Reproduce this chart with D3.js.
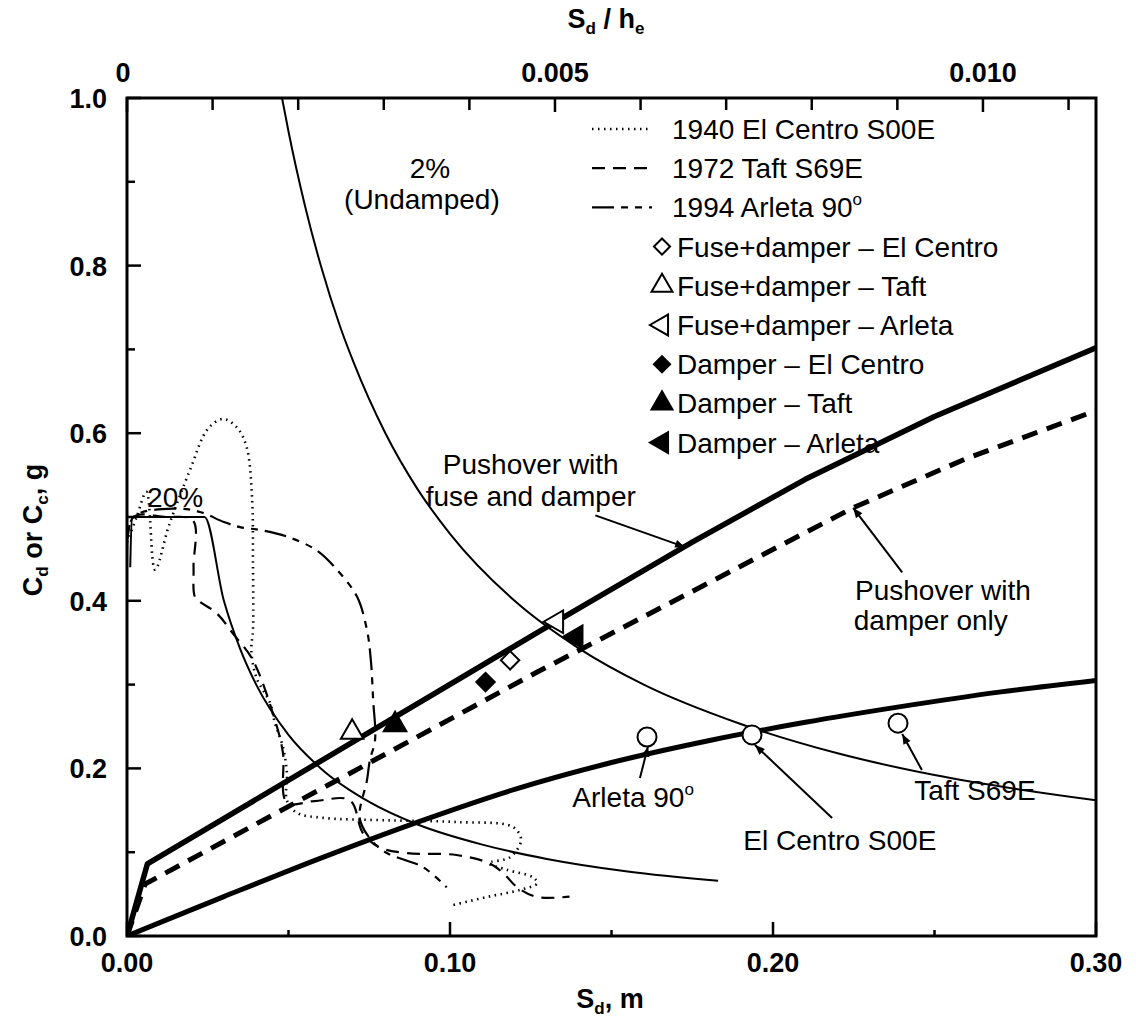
<!DOCTYPE html>
<html><head><meta charset="utf-8">
<script src="https://cdn.jsdelivr.net/npm/d3@7"></script>
<style>
body{margin:0;background:#fff;}
text{font-family:"Liberation Sans",Arial,Helvetica,sans-serif;fill:#000;}
</style></head>
<body><svg id="c" width="1136" height="1025"></svg>
<script>
// ---------- data (Sd in m, C in g) ----------
const xTicks = [0.00, 0.10, 0.20, 0.30];
const xMinorTicks = [0.05, 0.15, 0.25];
const yTicks = [0.0, 0.2, 0.4, 0.6, 0.8, 1.0];
const yMinorTicks = [0.1, 0.3, 0.5, 0.7, 0.9];
const topTicks = [0, 0.005, 0.010];
const topMinorTicks = [0.001,0.002,0.003,0.004,0.006,0.007,0.008,0.009,0.011];
const heightHe = 26.5;

const pushoverFuse = [[0,0],[0.0063,0.086],[0.127,0.362],[0.175,0.470],[0.21,0.545],[0.25,0.620],[0.30,0.702]];
const pushoverDamper = [[0,0],[0.0056,0.062],[0.127,0.315],[0.2248,0.511],[0.26,0.570],[0.30,0.627]];
const capacityBare = [[0,0],[0.03,0.047],[0.06,0.093],[0.09,0.136],[0.12,0.175],[0.15,0.207],[0.18,0.233],[0.21,0.255],[0.24,0.274],[0.27,0.291],[0.30,0.305]];

const demand2pct = [[0.048,1.0],[0.050,0.96],[0.055,0.873],[0.060,0.80],[0.066,0.727],[0.070,0.686],[0.080,0.60],[0.090,0.533],[0.100,0.48],[0.120,0.40],[0.140,0.343],[0.160,0.30],[0.190,0.253],[0.220,0.218],[0.250,0.192],[0.300,0.162]];
const demand20pct = [[0.001,0.44],[0.0015,0.50],[0.024,0.50],[0.030,0.40],[0.035,0.343],[0.040,0.30],[0.050,0.24],[0.060,0.20],[0.075,0.16],[0.090,0.133],[0.110,0.109],[0.130,0.092],[0.155,0.077],[0.183,0.066]];

const elCentro = [[0.0,0.47],[0.003,0.50],[0.006,0.53],[0.0087,0.437],[0.013,0.49],[0.0195,0.556],[0.025,0.605],[0.0297,0.617],[0.034,0.607],[0.037,0.584],[0.0387,0.524],[0.039,0.445],[0.039,0.365],[0.0385,0.341],[0.040,0.309],[0.0443,0.278],[0.0458,0.254],[0.0483,0.2255],[0.0495,0.194],[0.0495,0.162],[0.0526,0.147],[0.0607,0.141],[0.0814,0.138],[0.102,0.136],[0.1195,0.130],[0.122,0.1146],[0.1186,0.094],[0.112,0.087],[0.1176,0.079],[0.1257,0.070],[0.127,0.063],[0.1217,0.055],[0.112,0.047],[0.101,0.037]];
const taft = [[0.0,0.45],[0.002,0.50],[0.012,0.50],[0.0204,0.496],[0.0206,0.44],[0.021,0.405],[0.0225,0.399],[0.0278,0.385],[0.033,0.360],[0.039,0.329],[0.0464,0.250],[0.0483,0.218],[0.0495,0.159],[0.058,0.161],[0.069,0.162],[0.073,0.123],[0.078,0.106],[0.0867,0.099],[0.102,0.0967],[0.112,0.087],[0.1165,0.075],[0.1207,0.0585],[0.127,0.0465],[0.137,0.047]];
const arleta = [[0.0,0.46],[0.002,0.50],[0.015,0.51],[0.0226,0.506],[0.030,0.494],[0.0350,0.488],[0.042,0.484],[0.050,0.476],[0.0588,0.46],[0.065,0.437],[0.0712,0.405],[0.0743,0.365],[0.0755,0.329],[0.0762,0.282],[0.0768,0.234],[0.0752,0.21],[0.0743,0.186],[0.072,0.142],[0.0745,0.120],[0.0800,0.100],[0.0917,0.082],[0.099,0.058]];

const fuseElCentro = [0.1186, 0.329];
const fuseTaft = [0.0697, 0.243];
const fuseArleta = [0.133, 0.375];
const damperElCentro = [0.111, 0.303];
const damperTaft = [0.083, 0.252];
const damperArleta = [0.139, 0.357];
const peakPoints = [[0.161,0.2375],[0.1935,0.240],[0.2387,0.254]];

const legendLines = ["1940 El Centro S00E","1972 Taft S69E","1994 Arleta 90°"];
const legendSymbols = ["Fuse+damper – El Centro","Fuse+damper – Taft","Fuse+damper – Arleta","Damper – El Centro","Damper – Taft","Damper – Arleta"];

// ---------- drawing ----------
const svg = d3.select("#c");
const x = d3.scaleLinear().domain([0,0.30]).range([127,1096]);
const y = d3.scaleLinear().domain([0,1.0]).range([936,98]);
const xTop = d3.scaleLinear().domain([0,0.30/heightHe]).range([127,1096]);

const defs = svg.append("defs");
defs.append("marker").attr("id","arr").attr("viewBox","0 0 10 10").attr("refX",10).attr("refY",5)
  .attr("markerWidth",12).attr("markerHeight",10).attr("markerUnits","userSpaceOnUse").attr("orient","auto")
  .append("path").attr("d","M0,1 L10,5 L0,9 Z").attr("fill","#000");
defs.append("clipPath").attr("id","clip").append("rect").attr("x",127).attr("y",98).attr("width",969).attr("height",838);

const plot = svg.append("g").attr("clip-path","url(#clip)");
const lin = d3.line().x(d=>x(d[0])).y(d=>y(d[1]));
const mono = d3.line().x(d=>x(d[0])).y(d=>y(d[1])).curve(d3.curveMonotoneX);
const smooth = d3.line().x(d=>x(d[0])).y(d=>y(d[1])).curve(d3.curveCatmullRom.alpha(0.5));

function draw(data, gen, w, dash){
  plot.append("path").datum(data).attr("d",gen).attr("fill","none").attr("stroke","#000")
   .attr("stroke-width",w).attr("stroke-dasharray",dash||null).attr("stroke-linejoin","round");
}
const dotDash="1.5,4.5", taftDash="13,8", arletaDash="22,7,7,7,7,7";
draw(demand2pct, mono, 2);
draw(demand20pct, mono, 2);
draw(elCentro, smooth, 2.6, dotDash);
draw(taft, smooth, 2.2, taftDash);
draw(arleta, smooth, 2.2, arletaDash);
draw(capacityBare, smooth, 5);
draw(pushoverFuse, lin, 5.5);
draw(pushoverDamper, lin, 5, "16,10");

// markers
const sym = (type,size)=>d3.symbol().type(type).size(size)();
function marker(p, type, filled, rot, size){
  svg.append("path").attr("d",sym(type,size)).attr("transform",`translate(${x(p[0])},${y(p[1])}) rotate(${rot})`)
   .attr("fill",filled?"#000":"#fff").attr("stroke","#000").attr("stroke-width",2);
}
marker(fuseElCentro, d3.symbolSquare, false, 45, 170);
marker(fuseTaft, d3.symbolTriangle, false, 0, 220);
marker(fuseArleta, d3.symbolTriangle, false, -90, 220);
marker(damperElCentro, d3.symbolSquare, true, 45, 170);
marker(damperTaft, d3.symbolTriangle, true, 0, 220);
marker(damperArleta, d3.symbolTriangle, true, -90, 220);
svg.selectAll("circle.pk").data(peakPoints).join("circle").attr("class","pk")
  .attr("cx",d=>x(d[0])).attr("cy",d=>y(d[1])).attr("r",9.5).attr("fill","#fff").attr("stroke","#000").attr("stroke-width",2);

// frame
svg.append("rect").attr("x",127).attr("y",98).attr("width",969).attr("height",838).attr("fill","none").attr("stroke","#000").attr("stroke-width",3);

// axes ticks (inward)
const ax = svg.append("g");
yTicks.forEach(v=>{ax.append("line").attr("x1",127).attr("x2",141).attr("y1",y(v)).attr("y2",y(v)).attr("stroke","#000").attr("stroke-width",2.5);
  ax.append("text").attr("x",107).attr("y",y(v)+10).attr("text-anchor","end").attr("font-size",27).attr("font-weight","bold").text(d3.format(".1f")(v));});
yMinorTicks.forEach(v=>ax.append("line").attr("x1",127).attr("x2",135).attr("y1",y(v)).attr("y2",y(v)).attr("stroke","#000").attr("stroke-width",2.5));
xTicks.forEach(v=>{ax.append("line").attr("x1",x(v)).attr("x2",x(v)).attr("y1",936).attr("y2",922).attr("stroke","#000").attr("stroke-width",2.5);
  ax.append("text").attr("x",x(v)).attr("y",972).attr("text-anchor","middle").attr("font-size",27).attr("font-weight","bold").text(d3.format(".2f")(v));});
xMinorTicks.forEach(v=>ax.append("line").attr("x1",x(v)).attr("x2",x(v)).attr("y1",936).attr("y2",930).attr("stroke","#000").attr("stroke-width",2.5));
topTicks.forEach(v=>{ax.append("line").attr("x1",xTop(v)).attr("x2",xTop(v)).attr("y1",98).attr("y2",112).attr("stroke","#000").attr("stroke-width",2.5);
  ax.append("text").attr("x",xTop(v)-(v===0?4:0)).attr("y",82).attr("text-anchor","middle").attr("font-size",27).attr("font-weight","bold").text(v===0?"0":d3.format(".3f")(v));});
topMinorTicks.forEach(v=>ax.append("line").attr("x1",xTop(v)).attr("x2",xTop(v)).attr("y1",98).attr("y2",110).attr("stroke","#000").attr("stroke-width",2.5));

// axis titles
let t1 = svg.append("text").attr("x",610).attr("y",1008).attr("text-anchor","middle").attr("font-size",27).attr("font-weight","bold");
t1.append("tspan").text("S");
t1.append("tspan").attr("font-size",17).attr("dy",6).text("d");
t1.append("tspan").attr("dy",-6).text(", m");
let t2 = svg.append("text").attr("x",606).attr("y",28).attr("text-anchor","middle").attr("font-size",27).attr("font-weight","bold");
t2.append("tspan").text("S");
t2.append("tspan").attr("font-size",17).attr("dy",6).text("d");
t2.append("tspan").attr("dy",-6).text(" / h");
t2.append("tspan").attr("font-size",17).attr("dy",6).text("e");
let t3 = svg.append("text").attr("transform","translate(42,530) rotate(-90)").attr("text-anchor","middle").attr("font-size",27).attr("font-weight","bold");
t3.append("tspan").text("C");
t3.append("tspan").attr("font-size",17).attr("dy",6).text("d");
t3.append("tspan").attr("dy",-6).text(" or C");
t3.append("tspan").attr("font-size",17).attr("dy",6).text("c");
t3.append("tspan").attr("dy",-6).text(", g");

// legend
const lg = svg.append("g");
const rowY = i => 129 + i*39.2;
const lgDash=[dotDash,taftDash,arletaDash], lgW=[2.6,2.2,2.2];
legendLines.forEach((s,i)=>{const yy=rowY(i);
  lg.append("line").attr("x1",592).attr("x2",652).attr("y1",yy).attr("y2",yy).attr("stroke","#000").attr("stroke-width",lgW[i]).attr("stroke-dasharray",lgDash[i]);
  const t=lg.append("text").attr("x",672).attr("y",yy+10).attr("font-size",28);
  if(i===2){t.append("tspan").text("1994 Arleta 90");t.append("tspan").attr("font-size",17).attr("dy",-12).text("o");}
  else t.text(s);
});
const lgSym=[[d3.symbolSquare,false,45,130],[d3.symbolTriangle,false,0,190],[d3.symbolTriangle,false,-90,190],[d3.symbolSquare,true,45,130],[d3.symbolTriangle,true,0,190],[d3.symbolTriangle,true,-90,190]];
legendSymbols.forEach((s,i)=>{const yy=rowY(i+3);
  lg.append("path").attr("d",sym(lgSym[i][0],lgSym[i][3])).attr("transform",`translate(662,${yy}) rotate(${lgSym[i][2]})`)
    .attr("fill",lgSym[i][1]?"#000":"#fff").attr("stroke","#000").attr("stroke-width",2);
  lg.append("text").attr("x",677).attr("y",yy+10).attr("font-size",28).text(s);
});

// annotations
const an = svg.append("g");
function txt(sd,c,s,anchor){return an.append("text").attr("x",x(sd)).attr("y",y(c)+10).attr("text-anchor",anchor||"middle").attr("font-size",28).text(s);}
function leader(a,b){an.append("line").attr("x1",x(a[0])).attr("y1",y(a[1])).attr("x2",x(b[0])).attr("y2",y(b[1])).attr("stroke","#000").attr("stroke-width",2).attr("marker-end","url(#arr)");}
txt(0.0938,0.917,"2%");
txt(0.0913,0.880,"(Undamped)");
txt(0.0149,0.524,"20%");
txt(0.125,0.563,"Pushover with");
txt(0.125,0.525,"fuse and damper");
leader([0.145,0.502],[0.1728,0.464]);
txt(0.2254,0.413,"Pushover with","start");
txt(0.2250,0.377,"damper only","start");
leader([0.240,0.434],[0.2248,0.511]);
let ta = txt(0.1567,0.166,"Arleta 90"); ta.append("tspan").attr("font-size",17).attr("dy",-12).text("o");
leader([0.1588,0.1885],[0.1613,0.226]);
txt(0.2207,0.1146,"El Centro S00E");
leader([0.2183,0.1408],[0.1944,0.228]);
txt(0.2625,0.174,"Taft S69E");
leader([0.2461,0.198],[0.2400,0.241]);
</script></body></html>
